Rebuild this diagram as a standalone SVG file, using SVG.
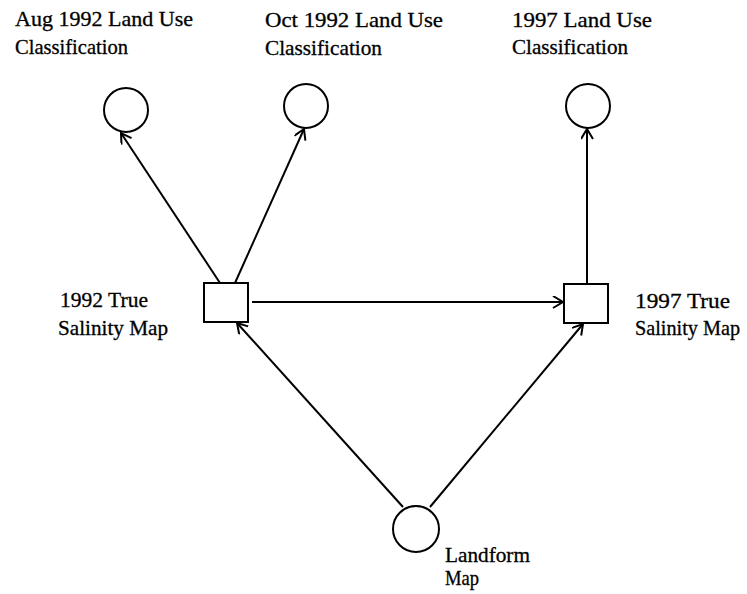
<svg xmlns="http://www.w3.org/2000/svg" width="747" height="594" viewBox="0 0 747 594">
<defs>
<style>
.lbl{font-family:"Liberation Serif","Times New Roman",serif;font-size:21px;fill:#000;stroke:#000;stroke-width:0.3}
.node{fill:#fff;stroke:#000;stroke-width:2}
.edge{fill:none;stroke:#000;stroke-width:2}
</style>
<marker id="arr" markerUnits="userSpaceOnUse" markerWidth="14" markerHeight="14" refX="11" refY="6" orient="auto">
<path d="M1,0 L11,6 L1,12" fill="none" stroke="#000" stroke-width="2"/>
</marker>
</defs>
<rect width="747" height="594" fill="#fff"/>
<g id="connectors">
<line class="edge" x1="220" y1="283" x2="121" y2="133" marker-end="url(#arr)"/>
<line class="edge" x1="235" y1="283" x2="304" y2="129" marker-end="url(#arr)"/>
<line class="edge" x1="252" y1="302" x2="563" y2="302" marker-end="url(#arr)"/>
<line class="edge" x1="587" y1="284" x2="587" y2="129" marker-end="url(#arr)"/>
<line class="edge" x1="403" y1="507" x2="237" y2="323" marker-end="url(#arr)"/>
<line class="edge" x1="430" y1="507" x2="583" y2="324" marker-end="url(#arr)"/>
</g>
<g id="aug1992">
<circle class="node" cx="126" cy="110" r="22"/>
<text class="lbl" x="15" y="26" textLength="178" lengthAdjust="spacingAndGlyphs">Aug 1992 Land Use</text>
<text class="lbl" x="15" y="54" textLength="113" lengthAdjust="spacingAndGlyphs">Classification</text>
</g>
<g id="oct1992">
<circle class="node" cx="306" cy="106" r="22"/>
<text class="lbl" x="265" y="27" textLength="178" lengthAdjust="spacingAndGlyphs">Oct 1992 Land Use</text>
<text class="lbl" x="265" y="55" textLength="117" lengthAdjust="spacingAndGlyphs">Classification</text>
</g>
<g id="lu1997">
<circle class="node" cx="588" cy="106" r="22"/>
<text class="lbl" x="512" y="27" textLength="140" lengthAdjust="spacingAndGlyphs">1997 Land Use</text>
<text class="lbl" x="512" y="54" textLength="116" lengthAdjust="spacingAndGlyphs">Classification</text>
</g>
<g id="salinity1992">
<rect class="node" x="204" y="283" width="44" height="39"/>
<text class="lbl" x="60" y="307" textLength="88" lengthAdjust="spacingAndGlyphs">1992 True</text>
<text class="lbl" x="58" y="335" textLength="110" lengthAdjust="spacingAndGlyphs">Salinity Map</text>
</g>
<g id="salinity1997">
<rect class="node" x="564" y="284" width="44" height="39"/>
<text class="lbl" x="635" y="308" textLength="95" lengthAdjust="spacingAndGlyphs">1997 True</text>
<text class="lbl" x="635" y="335" textLength="105" lengthAdjust="spacingAndGlyphs">Salinity Map</text>
</g>
<g id="landform">
<circle class="node" cx="416" cy="529" r="23"/>
<text class="lbl" x="445" y="562" textLength="85" lengthAdjust="spacingAndGlyphs">Landform</text>
<text class="lbl" x="445" y="585" textLength="34" lengthAdjust="spacingAndGlyphs">Map</text>
</g>
</svg>
